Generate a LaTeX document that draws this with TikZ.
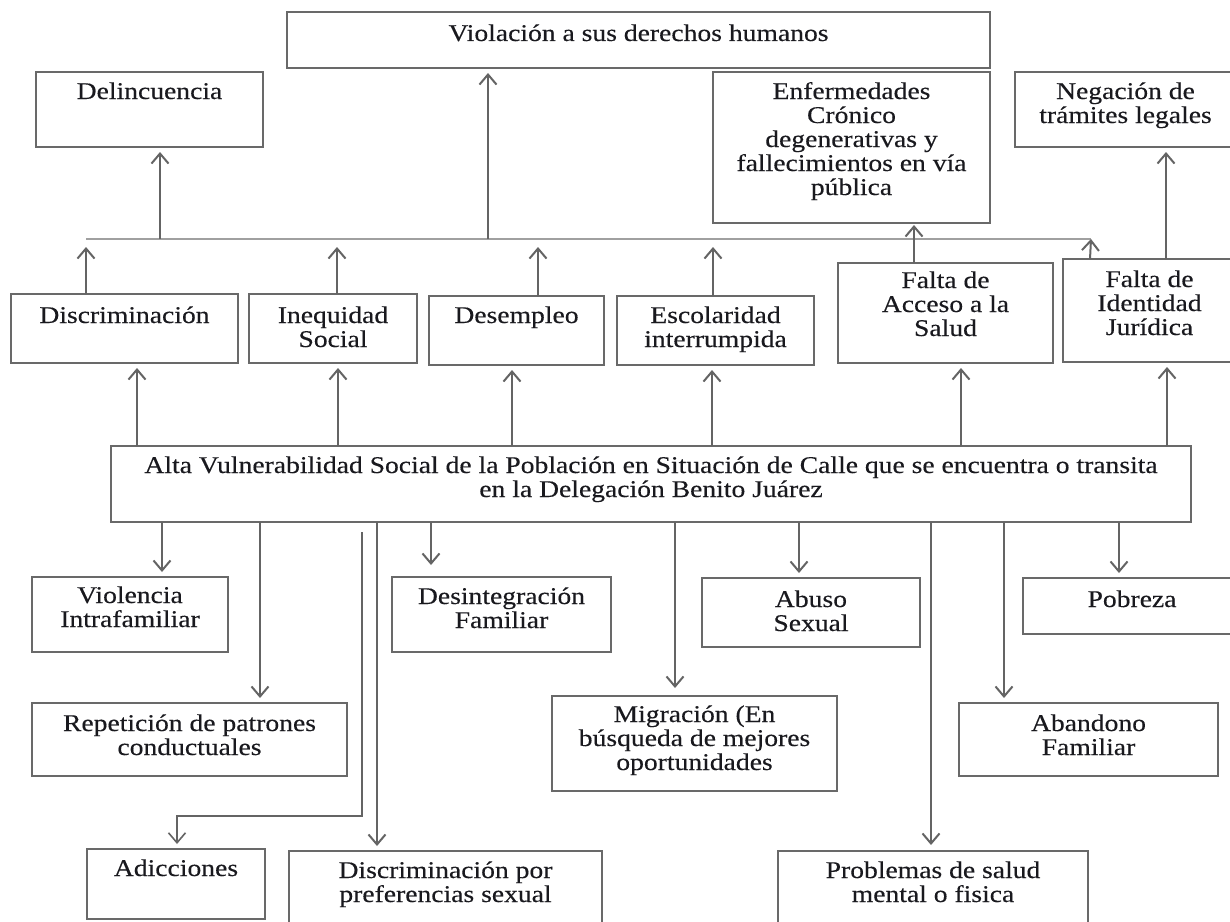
\documentclass[tikz,border=0pt]{standalone}
\usepackage{fontspec}
\setmainfont{Liberation Serif}[FakeStretch=1.15,FakeBold=0.3]
\usetikzlibrary{arrows.meta}
\newlength{\pxl}\setlength{\pxl}{0.5pt}
\definecolor{boxgray}{RGB}{105,105,105}
\definecolor{arrgray}{RGB}{100,100,100}
\definecolor{hgray}{RGB}{160,160,160}
\definecolor{txtcol}{RGB}{25,25,30}
\tikzset{
  box/.style={draw=boxgray, line width=1.2pt, fill=white, inner sep=0pt, outer sep=0pt, anchor=north west, text=txtcol, font=\fontsize{12}{12}\selectfont},
  arr/.style={draw=arrgray, line width=1pt, -{Straight Barb[length=5pt,width=8.5pt]}, shorten >=2.5pt},
  hline/.style={draw=hgray, line width=1pt}
}
% name, x1, y1, x2, y2, baseline offset, text
\newcommand{\mkbox}[7]{\node[box] (#1) at (#2,#3) {\parbox[c][\numexpr#5-#3\relax\pxl][t]{\numexpr#4-#2\relax\pxl}{\centering\rule{0pt}{#6\pxl}#7}};}
\begin{document}
\begin{tikzpicture}[x=0.5pt,y=-0.5pt]
\useasboundingbox (0,0) rectangle (1230,921);
\fill[white] (0,0) rectangle (1230,921);
% boxes
\mkbox{top}{287}{12}{990}{68}{29}{Violación a sus derechos humanos}
\mkbox{delin}{36}{72}{263}{147}{27}{Delincuencia}
\mkbox{enf}{713}{72}{990}{223}{27}{Enfermedades\\Crónico\\degenerativas y\\fallecimientos en vía\\pública}
\mkbox{neg}{1015}{72}{1236}{147}{27}{Negación de\\trámites legales}
\mkbox{disc}{11}{294}{238}{363}{29}{Discriminación}
\mkbox{ineq}{249}{294}{417}{363}{29}{Inequidad\\Social}
\mkbox{desem}{429}{296}{604}{365}{27}{Desempleo}
\mkbox{escol}{617}{296}{814}{365}{27}{Escolaridad\\interrumpida}
\mkbox{acceso}{838}{263}{1053}{363}{25}{Falta de\\Acceso a la\\Salud}
\mkbox{ident}{1063}{259}{1236}{362}{28}{Falta de\\Identidad\\Jurídica}
\mkbox{main}{111}{446}{1191}{522}{27}{Alta Vulnerabilidad Social de la Población en Situación de Calle que se encuentra o transita\\en la Delegación Benito Juárez}
\mkbox{viol}{32}{577}{228}{652}{26}{Violencia\\Intrafamiliar}
\mkbox{desint}{392}{577}{611}{652}{27}{Desintegración\\Familiar}
\mkbox{abuso}{702}{578}{920}{647}{29}{Abuso\\Sexual}
\mkbox{pob}{1023}{578}{1241}{634}{29}{Pobreza}
\mkbox{rep}{32}{703}{347}{776}{28}{Repetición de patrones\\conductuales}
\mkbox{migr}{552}{696}{837}{791}{26}{Migración (En\\búsqueda de mejores\\oportunidades}
\mkbox{aband}{959}{703}{1218}{776}{28}{Abandono\\Familiar}
\mkbox{adic}{87}{849}{265}{919}{27}{Adicciones}
\mkbox{discp}{289}{851}{602}{926}{27}{Discriminación por\\preferencias sexual}
\mkbox{prob}{778}{851}{1088}{926}{27}{Problemas de salud\\mental o fisica}
% horizontal collector line
\coordinate (hl) at (86,239);
\coordinate (hr) at (1091,239);
\coordinate (tips) at (0,247);
\draw[hline] (hl) -- (hr);
% arrows up to the collector line / top row
\draw[arr] (hl -| 160,0) -- (delin.south -| 160,0);
\draw[arr] (hl -| 488,0) -- (top.south -| 488,0);
\draw[arr, shorten >=0pt] (disc.north -| 86,0) -- (tips -| 86,0);
\draw[arr, shorten >=0pt] (ineq.north -| 337,0) -- (tips -| 337,0);
\draw[arr, shorten >=0pt] (desem.north -| 538,0) -- (tips -| 538,0);
\draw[arr, shorten >=0pt] (escol.north -| 713,0) -- (tips -| 713,0);
\draw[arr, shorten >=1pt] (acceso.north -| 914,0) -- (enf.south -| 914,0);
\draw[arr, shorten >=0pt] (ident.north -| 1090,0) -- (hr);
\draw[arr] (ident.north -| 1166,0) -- (neg.south -| 1166,0);
% arrows from main box up
\draw[arr] (main.north -| 137,0) -- (disc.south -| 137,0);
\draw[arr] (main.north -| 338,0) -- (ineq.south -| 338,0);
\draw[arr] (main.north -| 512,0) -- (desem.south -| 512,0);
\draw[arr] (main.north -| 712,0) -- (escol.south -| 712,0);
\draw[arr] (main.north -| 961,0) -- (acceso.south -| 961,0);
\draw[arr] (main.north -| 1167,0) -- (ident.south -| 1167,0);
% arrows from main box down
\draw[arr] (main.south -| 162,0) -- (viol.north -| 162,0);
\draw[arr] (main.south -| 260,0) -- (rep.north -| 260,0);
\draw[arr] (main.south -| 377,0) -- (discp.north -| 377,0);
\draw[arr, shorten >=6pt] (main.south -| 431,0) -- (desint.north -| 431,0);
\draw[arr, shorten >=4pt] (main.south -| 675,0) -- (migr.north -| 675,0);
\draw[arr] (main.south -| 799,0) -- (abuso.north -| 799,0);
\draw[arr, shorten >=3pt] (main.south -| 931,0) -- (prob.north -| 931,0);
\draw[arr] (main.south -| 1004,0) -- (aband.north -| 1004,0);
\draw[arr] (main.south -| 1119,0) -- (pob.north -| 1119,0);
\coordinate (adstart) at (362,532);
\draw[arr, line width=0.8pt] (adstart) -- (362,816) -- (177,816) -- (adic.north -| 177,0);
\end{tikzpicture}
\end{document}
